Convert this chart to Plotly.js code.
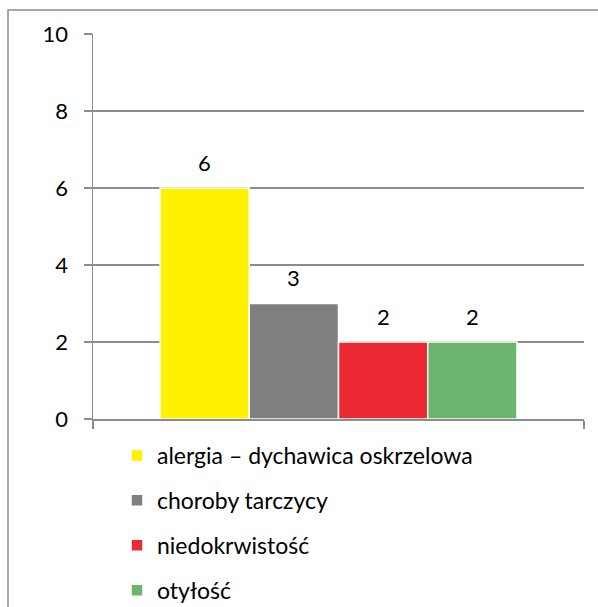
<!DOCTYPE html>
<html>
<head>
<meta charset="utf-8">
<script src="https://cdn.plot.ly/plotly-3.0.1.min.js"></script>
<style>
html,body{margin:0;padding:0;background:#fff;}
#chart{width:598px;height:607px;}
</style>
</head>
<body>
<div id="chart"></div>
<script>
const seriesNames = ["alergia – dychawica oskrzelowa", "choroby tarczycy", "niedokrwistość", "otyłość"];
const seriesValues = [6, 3, 2, 2];
const seriesColors = ["#FFF200", "#7F7F7F", "#EC2A33", "#6CB56E"];
const category = [""];
const yTicks = [0, 2, 4, 6, 8, 10];

const FONT = "Lato, 'Open Sans', sans-serif";
const W = 598, H = 607;
const M = {l: 93, r: 14, t: 34, b: 188, autoexpand: false};
const pw = W - M.l - M.r, ph = H - M.t - M.b;
const bargap = 0.273;
const n = seriesNames.length;
const bw = (1 - bargap) / n;

const traces = seriesNames.map((name, i) => ({
  type: "bar",
  name: name,
  x: category,
  y: [seriesValues[i]],
  legendgroup: "g" + i,
  marker: {color: seriesColors[i], line: {color: "#ffffff", width: 1.5}},
  hoverinfo: "skip"
}));

const annotations = seriesValues.map((v, i) => ({
  x: -0.5 + bargap / 2 + bw * (i + 0.5),
  y: v,
  xref: "x", yref: "y",
  text: String(v),
  showarrow: false,
  yanchor: "middle",
  yshift: 26,
  font: {family: FONT, size: 22, color: "#000"}
}));

const layout = {
  width: W, height: H,
  margin: M,
  paper_bgcolor: "#fff",
  plot_bgcolor: "#fff",
  barmode: "group",
  bargap: bargap,
  bargroupgap: 0,
  showlegend: true,
  legend: {
    orientation: "v",
    x: (117 - M.l) / pw, y: -(434 - (H - M.b)) / ph,
    xanchor: "left", yanchor: "top",
    traceorder: "grouped",
    tracegroupgap: 12,
    font: {family: FONT, size: 23, color: "#000"},
    bgcolor: "rgba(0,0,0,0)"
  },
  xaxis: {
    type: "category",
    range: [-0.5, 0.5],
    showticklabels: false,
    ticks: "outside",
    tickson: "boundaries",
    ticklen: 8,
    tickcolor: "#8c8c8c",
    tickwidth: 1.5,
    showline: true,
    linecolor: "#8c8c8c",
    linewidth: 1.5,
    showgrid: false,
    zeroline: false,
    fixedrange: true
  },
  yaxis: {
    range: [0, 10],
    tickvals: yTicks,
    ticktext: yTicks.map(String),
    ticks: "outside",
    ticklen: 8,
    tickcolor: "#8c8c8c",
    tickwidth: 1.5,
    ticklabelstandoff: 11,
    showline: true,
    linecolor: "#8c8c8c",
    linewidth: 1.5,
    showgrid: true,
    gridcolor: "#8c8c8c",
    gridwidth: 1.5,
    zeroline: false,
    tickfont: {family: FONT, size: 22, color: "#000"},
    fixedrange: true
  },
  annotations: annotations,
  shapes: [{
    type: "rect",
    xref: "paper", yref: "paper",
    x0: (8 - M.l) / pw, x1: (W + 20 - M.l) / pw,
    y0: -(H + 20 - (H - M.b)) / ph, y1: 1 + (M.t - 10) / ph,
    line: {color: "#8c8c8c", width: 1.5},
    layer: "below"
  }]
};

Plotly.newPlot("chart", traces, layout, {displayModeBar: false, staticPlot: true});
</script>
</body>
</html>
